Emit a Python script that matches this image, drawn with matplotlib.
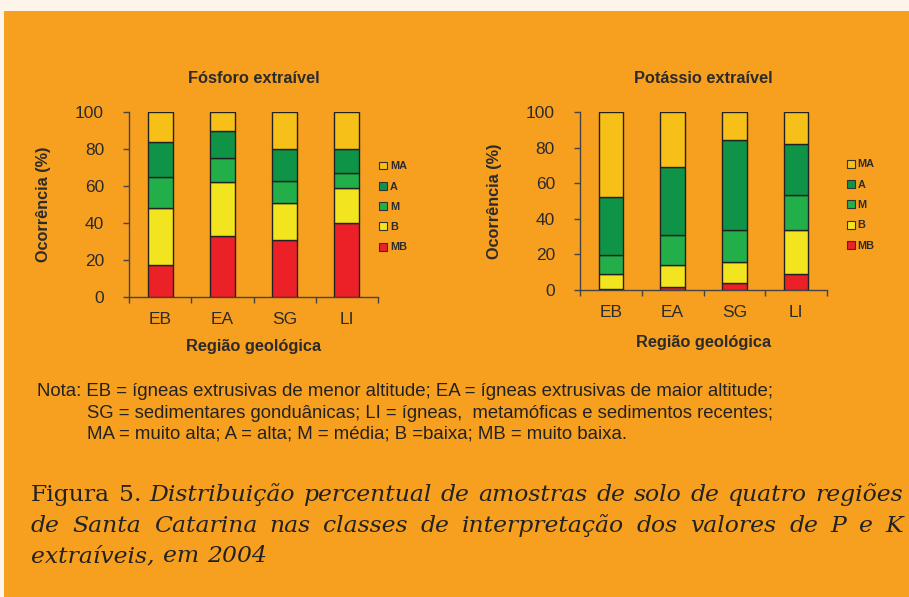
import numpy as np
import matplotlib
matplotlib.use("Agg")
import matplotlib.pyplot as plt
from matplotlib.patches import Patch, Rectangle
from matplotlib import font_manager

W, H = 909, 597
ORANGE = "#F79F1F"
CREAM = "#FEF4EA"
INK = "#2b2b2b"

regions = ["EB", "EA", "SG", "LI"]
classes = ["MB", "B", "M", "A", "MA"]
colors = ["#EC2127", "#F2E41E", "#22AF4A", "#0F9447", "#F6C018"]

# Fósforo extraível (% of samples per class, bottom to top)
p_mb = [17.0, 33.0, 31.0, 40.0]
p_b = [31.0, 29.0, 20.0, 19.0]
p_m = [17.0, 13.0, 12.0, 8.0]
p_a = [19.0, 15.0, 17.0, 13.0]
p_ma = [16.0, 10.0, 20.0, 20.0]

# Potássio extraível
k_mb = [0.6, 1.3, 3.8, 9.0]
k_b = [8.2, 12.8, 12.0, 24.6]
k_m = [10.7, 16.5, 17.8, 20.0]
k_a = [32.9, 38.8, 50.8, 28.4]
k_ma = [47.6, 30.6, 15.6, 18.0]

names = set(f.name for f in font_manager.fontManager.ttflist)
narrow = "Liberation Sans Narrow" if "Liberation Sans Narrow" in names else "Liberation Sans"
plt.rcParams["font.family"] = ["Liberation Sans", "DejaVu Sans"]

fig = plt.figure(figsize=(W / 100, H / 100), dpi=100)
fig.patch.set_facecolor(CREAM)
fig.add_artist(Rectangle((3.5 / W, 0), 1, (H - 10.5) / H, transform=fig.transFigure,
                         facecolor=ORANGE, edgecolor="none", zorder=-10))


def px_axes(x0, y0, x1, y1):
    return fig.add_axes([x0 / W, 1 - y1 / H, (x1 - x0) / W, (y1 - y0) / H])


def draw(ax, series, title, legend_x, xlabelpad):
    ax.set_facecolor("none")
    x = np.arange(len(regions))
    bottom = np.zeros(len(regions))
    handles = []
    for vals, c, lab in zip(series, colors, classes):
        ax.bar(x, vals, 0.4, bottom=bottom, color=c, edgecolor="#222222", linewidth=1.0, zorder=3)
        bottom += np.array(vals)
        handles.append(Patch(facecolor=c, edgecolor="#333333", linewidth=0.8, label=lab))
    ax.set_xlim(-0.5, len(regions) - 0.5)
    ax.set_ylim(0, 100)
    ax.set_yticks(range(0, 101, 20))
    ax.set_xticks(x)
    ax.set_xticklabels(regions)
    ax.set_xticks(np.arange(-0.5, len(regions)), minor=True)
    ax.tick_params(axis="x", which="major", length=0, pad=11, labelsize=12.5, labelcolor=INK)
    ax.tick_params(axis="x", which="minor", length=4, width=1, color="#444444", direction="out")
    ax.tick_params(axis="y", length=4, width=1, color="#444444", pad=14, labelsize=12.5, labelcolor=INK)
    for s in ["top", "right"]:
        ax.spines[s].set_visible(False)
    for s in ["left", "bottom"]:
        ax.spines[s].set_color("#444444")
        ax.spines[s].set_linewidth(1.0)
    ax.set_title(title, fontsize=11.8, fontweight="bold", color=INK, pad=21)
    ax.set_ylabel("Ocorrência (%)", fontsize=11.7, fontweight="bold", color=INK, labelpad=17)
    ax.set_xlabel("Região geológica", fontsize=11.8, fontweight="bold", color=INK, labelpad=xlabelpad)
    leg = ax.legend(handles[::-1], classes[::-1], loc="upper left",
                    bbox_to_anchor=(legend_x, 1 - 49 / 184.4), frameon=False,
                    handlelength=0.75, handleheight=0.75, handletextpad=0.25,
                    labelspacing=0.95, borderaxespad=0, borderpad=0,
                    prop={"size": 7.8, "weight": "bold"})
    for t in leg.get_texts():
        t.set_color(INK)


ax1 = px_axes(129, 112.3, 378, 296.7)
draw(ax1, [p_mb, p_b, p_m, p_a, p_ma], "Fósforo extraível", 1.005, 9)
ax2 = px_axes(580, 112.3, 827, 289.7)
draw(ax2, [k_mb, k_b, k_m, k_a, k_ma], "Potássio extraível", 1.08, 11)

# note
note = [
    (37, 391.5, "Nota: EB = ígneas extrusivas de menor altitude; EA = ígneas extrusivas de maior altitude;", 773),
    (87, 413, "SG = sedimentares gonduânicas; LI = ígneas,  metamóficas e sedimentos recentes;", 775),
    (87, 434, "MA = muito alta; A = alta; M = média; B =baixa; MB = muito baixa.", 627),
]
fig.canvas.draw()
renderer = fig.canvas.get_renderer()
for x0, yc, s, x1 in note:
    t = fig.text(x0 / W, 1 - yc / H, s, fontsize=11, family=narrow, color="#222222", va="center")
    w = t.get_window_extent(renderer).width
    t.set_fontsize(11 * (x1 - x0) / w)

# justified caption
cap_lines = [
    ([("Figura", "normal"), ("5.", "normal"), ("Distribuição", "italic"), ("percentual", "italic"),
      ("de", "italic"), ("amostras", "italic"), ("de", "italic"), ("solo", "italic"), ("de", "italic"),
      ("quatro", "italic"), ("regiões", "italic")], 501, True),
    ([(w, "italic") for w in "de Santa Catarina nas classes de interpretação dos valores de P e K".split()], 532, True),
    ([(w, "italic") for w in "extraíveis, em 2004".split()], 562, False),
]
cap_left, cap_right = 31, 903
cap_family = ["DejaVu Serif"]


def word_widths(words, size):
    arts = [fig.text(0, 0, wd, fontsize=size, family=cap_family, style=st) for wd, st in words]
    ws = [a.get_window_extent(renderer).width for a in arts]
    for a in arts:
        a.remove()
    return ws


# pick the font size so that line 1 fits with ordinary spaces
probe = 14.0
ws = word_widths(cap_lines[0][0], probe)
natural = sum(ws) + 0.36 * probe * 100 / 72 * (len(ws) - 1)
cap_size = probe * (cap_right - cap_left) / natural

for words, yb, justify in cap_lines:
    arts = [fig.text(0, 1 - yb / H, wd, fontsize=cap_size, family=cap_family, style=st,
                     color="#222222", va="baseline") for wd, st in words]
    widths = [a.get_window_extent(renderer).width for a in arts]
    space = 0.36 * cap_size * 100 / 72
    if justify:
        space = (cap_right - cap_left - sum(widths)) / (len(arts) - 1)
    x = cap_left
    for a, wdt in zip(arts, widths):
        a.set_x(x / W)
        x += wdt + space

fig.savefig("out.png", dpi=100, facecolor=fig.get_facecolor())
